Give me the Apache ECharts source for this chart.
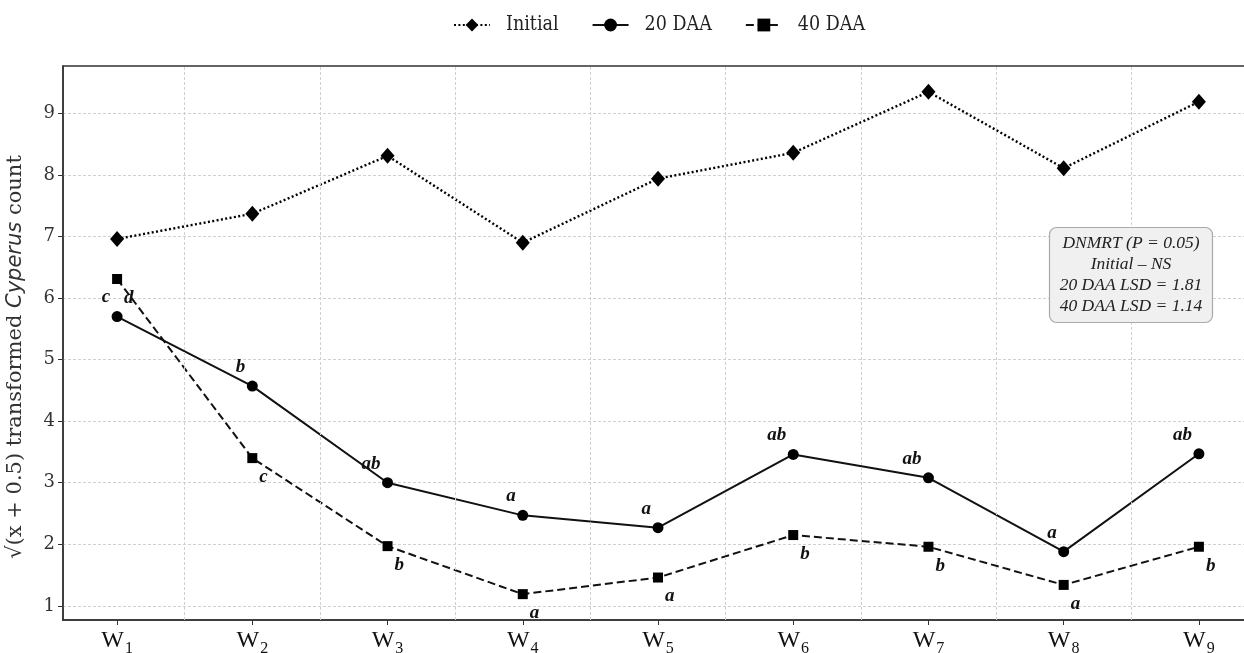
<!DOCTYPE html>
<html>
<head>
<meta charset="utf-8">
<title>Cyperus count</title>
<script src="https://cdn.jsdelivr.net/npm/echarts@6/dist/echarts.min.js"></script>
<style>
  html, body { margin: 0; padding: 0; background: #fff; }
  #chart { width: 1244px; height: 653px; }
</style>
</head>
<body>
<div id="chart"></div>
<script>
// weeks W1..W9
const weeks = [1, 2, 3, 4, 5, 6, 7, 8, 9];
const yTicks = [1, 2, 3, 4, 5, 6, 7, 8, 9];

const initial = [6.96, 7.37, 8.31, 6.90, 7.94, 8.36, 9.35, 8.11, 9.19];
const daa20 = [5.70, 4.57, 3.00, 2.47, 2.27, 3.46, 3.08, 1.88, 3.47];
const daa40 = [6.31, 3.40, 1.97, 1.19, 1.46, 2.15, 1.96, 1.34, 1.96];

// DNMRT letters
const letters20 = ["c", "b", "ab", "a", "a", "ab", "ab", "a", "ab"];
const letters40 = ["d", "c", "b", "a", "a", "b", "b", "a", "b"];

const noteLines = ["DNMRT (P = 0.05)", "Initial \u2013 NS", "20 DAA LSD = 1.81", "40 DAA LSD = 1.14"];

// vertical grid lines sit between weeks
const midLines = weeks.slice(0, -1).map(w => ({ xAxis: w + 0.5 }));

const pairs = arr => arr.map((v, i) => [weeks[i], v]);

const chart = echarts.init(document.getElementById("chart"));

const letterLabel = (letters, dx, dy, align) => ({
  show: true,
  formatter: p => letters[p.dataIndex],
  position: "inside",
  offset: [dx, dy],
  align: align,
  verticalAlign: "middle",
  fontFamily: "Liberation Serif",
  fontStyle: "italic",
  fontWeight: "bold",
  fontSize: 19,
  color: "#111",
});

const option = {
  animation: false,
  backgroundColor: "#fff",
  title: {
    text: noteLines.join("\n"),
    left: 1121,
    top: 227,
    textAlign: "center",
    backgroundColor: "#f0f0f0",
    borderColor: "#aaa",
    borderWidth: 1.2,
    borderRadius: 7,
    padding: [6, 10, 6, 10],
    textStyle: {
      fontFamily: "Liberation Serif",
      fontStyle: "italic",
      fontWeight: "normal",
      fontSize: 17.5,
      lineHeight: 21,
      color: "#222",
    },
  },
  legend: {
    data: ["Initial", "20 DAA", "40 DAA"],
    top: 10,
    left: 448,
    itemWidth: 36,
    itemHeight: 16,
    itemGap: 33,
    textStyle: {
      fontFamily: "DejaVu Serif Condensed, DejaVu Serif",
      fontSize: 19.5,
      color: "#222",
      padding: [0, 0, 0, 11],
    },
  },
  grid: {
    left: 63,
    top: 66,
    right: -9,
    bottom: 33,
    show: true,
    borderColor: "#333",
    borderWidth: 1.5,
    outerBoundsMode: "none",
  },
  xAxis: {
    type: "value",
    min: 0.6,
    max: 9.4,
    axisLine: { show: true, lineStyle: { color: "#333", width: 1.5 } },
    axisTick: {
      show: true,
      customValues: weeks,
      length: 5,
      lineStyle: { color: "#333" },
    },
    splitLine: { show: false },
    axisLabel: {
      customValues: weeks,
      margin: 9,
      formatter: v => "{w|W}{s|" + v + "}",
      rich: {
        w: { fontFamily: "Liberation Serif", fontSize: 24, color: "#111", verticalAlign: "bottom", lineHeight: 24 },
        s: { fontFamily: "Liberation Serif", fontSize: 16, color: "#111", verticalAlign: "bottom", lineHeight: 18, padding: [0, 0, -4, 1] },
      },
    },
  },
  yAxis: {
    type: "value",
    min: 0.77,
    max: 9.77,
    name: "\u221A(x + 0.5) transformed {it|Cyperus} count",
    nameLocation: "middle",
    nameGap: 37,
    nameTextStyle: {
      fontFamily: "DejaVu Serif",
      fontSize: 21,
      color: "#333",
      padding: [0, 28, 0, 0],
      rich: {
        it: { fontFamily: "DejaVu Sans", fontStyle: "italic", fontSize: 21, color: "#333" },
      },
    },
    axisLine: { show: true, lineStyle: { color: "#333", width: 1.5 } },
    axisTick: {
      show: true,
      customValues: yTicks,
      length: 5,
      lineStyle: { color: "#333" },
    },
    axisLabel: {
      customValues: yTicks,
      fontFamily: "DejaVu Serif",
      fontSize: 18,
      color: "#333",
      margin: 8,
    },
    splitLine: {
      show: true,
      lineStyle: { color: "#d0d0d0", type: [3, 2], width: 1 },
    },
  },
  series: [
    {
      name: "grid",
      type: "line",
      data: [],
      silent: true,
      z: 0,
      markLine: {
        silent: true,
        symbol: "none",
        label: { show: false },
        lineStyle: { color: "#d0d0d0", type: [3, 2], width: 1 },
        data: midLines,
      },
    },
    {
      name: "Initial",
      type: "line",
      data: pairs(initial),
      symbol: "diamond",
      symbolSize: [14, 16],
      itemStyle: { color: "#000" },
      lineStyle: { color: "#000", width: 2.4, type: [2, 2.4] },
      z: 3,
    },
    {
      name: "20 DAA",
      type: "line",
      data: pairs(daa20),
      symbol: "circle",
      symbolSize: 11,
      itemStyle: { color: "#000" },
      lineStyle: { color: "#111", width: 2 },
      label: letterLabel(letters20, -7, -19, "right"),
      z: 3,
    },
    {
      name: "40 DAA",
      type: "line",
      data: pairs(daa40),
      symbol: "rect",
      symbolSize: 10,
      itemStyle: { color: "#000" },
      lineStyle: { color: "#111", width: 2, type: [8, 4] },
      label: letterLabel(letters40, 7, 19, "left"),
      z: 3,
    },
  ],
};

chart.setOption(option);
window.addEventListener("resize", () => chart.resize());
</script>
</body>
</html>
